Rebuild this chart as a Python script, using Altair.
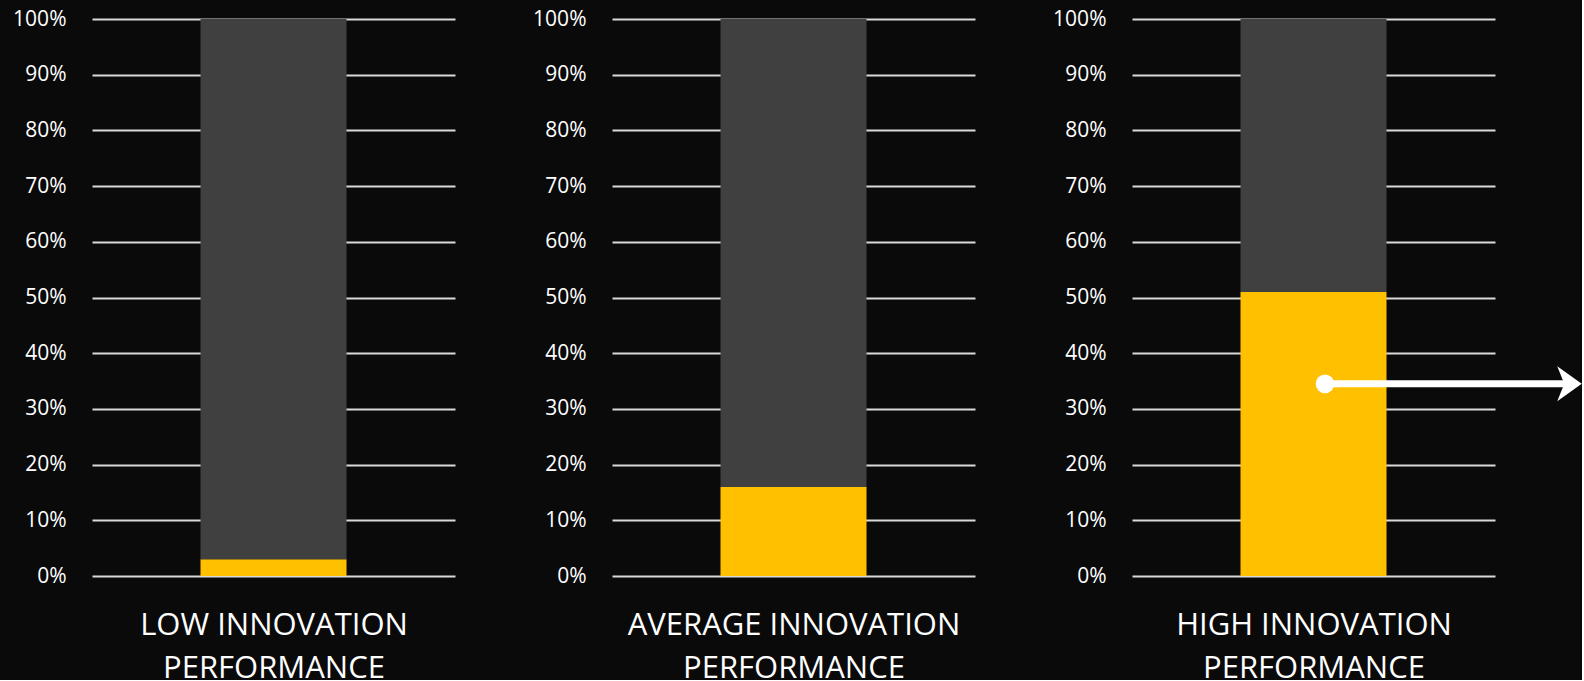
import altair as alt
import pandas as pd

# ---- data ----
panel_titles = [
    ["LOW INNOVATION", "PERFORMANCE"],
    ["AVERAGE INNOVATION", "PERFORMANCE"],
    ["HIGH INNOVATION", "PERFORMANCE"],
]
panel_keys = ["low", "average", "high"]
yellow_share = [3, 16, 51]          # % (yellow segment)
segments = ["share", "rest"]
arrow_level = [34.5]                # % level of the white arrow in the last panel
y_ticks = list(range(0, 101, 10))

YELLOW = "#FFC000"
GREY = "#404040"
FONT = "Open Sans"

PANEL_W = 363
PANEL_H = 557


def panel(i):
    key = panel_keys[i]
    share = yellow_share[i]
    df = pd.DataFrame({
        "cat": [key, key],
        "seg": segments,
        "value": [share, 100 - share],
        "ord": [0, 1],
    })
    bars = alt.Chart(df).mark_bar(size=146).encode(
        x=alt.X("cat:N",
                axis=alt.Axis(labels=False, ticks=False, domain=False,
                              grid=False, title=panel_titles[i])),
        y=alt.Y("value:Q", stack="zero",
                scale=alt.Scale(domain=[0, 100], nice=False, zero=True),
                axis=alt.Axis(values=y_ticks, labelExpr="datum.value + '%'",
                              title=None, domain=False, ticks=False,
                              grid=True)),
        color=alt.Color("seg:N",
                        scale=alt.Scale(domain=segments, range=[YELLOW, GREY]),
                        legend=None),
        order=alt.Order("ord:Q"),
    )
    layers = [bars]
    if i == 2:
        adf = pd.DataFrame({"lvl": arrow_level})
        line = alt.Chart(adf).mark_rule(color="white", strokeWidth=7).encode(
            x=alt.value(193), x2=alt.value(440), y=alt.Y("lvl:Q"))
        dot = alt.Chart(adf).mark_point(filled=True, opacity=1, color="white",
                                        shape="circle", size=350).encode(
            x=alt.value(193), y=alt.Y("lvl:Q"))
        head = alt.Chart(adf).mark_point(
            filled=True, opacity=1, color="white", size=1225,
            shape="M-0.7,-1 L0.7,0 L-0.7,1 L-0.3,0 Z").encode(
            x=alt.value(437.5), y=alt.Y("lvl:Q"))
        layers += [line, dot, head]
    return alt.layer(*layers).properties(width=PANEL_W, height=PANEL_H)


chart = alt.hconcat(*[panel(i) for i in range(3)], spacing=157, bounds="flush")
chart = chart.properties(
    background="#0a0a0a",
    padding={"left": 12, "top": 8, "right": 0, "bottom": -3},
).configure_view(stroke=None).configure_axis(
    labelFont=FONT, labelFontSize=21, labelColor="white", labelPadding=26,
    gridColor="#d9d9d9", gridWidth=2, gridOpacity=1,
    titleFont=FONT, titleFontSize=31, titleFontWeight=400, titleColor="white",
    titleLineHeight=43, titlePadding=34,
)

chart.save("out.html", embed_options={"renderer": "svg", "actions": False})
